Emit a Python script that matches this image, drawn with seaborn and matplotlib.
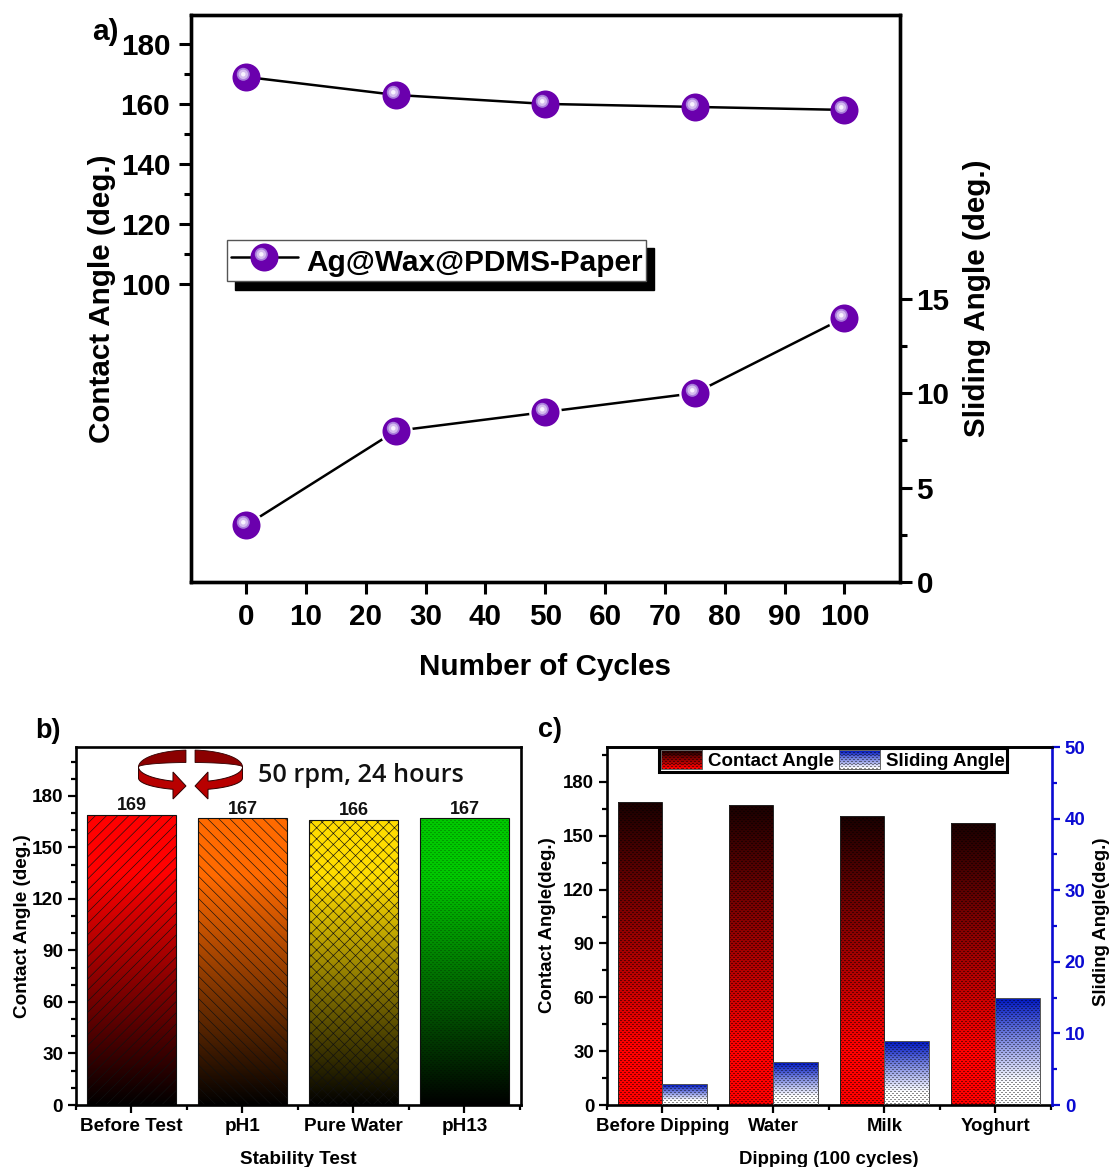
import numpy as np
import pandas as pd
import matplotlib
matplotlib.use("Agg")
import matplotlib.pyplot as plt
import seaborn as sns
from matplotlib.colors import to_rgb
from matplotlib.image import BboxImage
from matplotlib.legend_handler import HandlerBase, HandlerTuple
from matplotlib.lines import Line2D
from matplotlib.markers import MarkerStyle
from matplotlib.patches import Polygon, Rectangle
from matplotlib.ticker import FixedLocator, MultipleLocator
from matplotlib.transforms import Affine2D, Bbox, TransformedBbox

# ---------- data ----------
cycles = [0, 25, 50, 75, 100]
cycle_contact = [169, 163, 160, 159, 158]
cycle_sliding = [3, 8, 9, 10, 14]

stability_tests = ["Before Test", "pH1", "Pure Water", "pH13"]
stability_contact = [169, 167, 166, 167]
stability_colors = ["#ff0000", "#ff6a00", "#ffdc00", "#00c800"]
stability_hatches = ["///", "\\\\\\", "xxx", None]

dipping_media = ["Before Dipping", "Water", "Milk", "Yoghurt"]
dipping_contact = [169, 167, 161, 157]
dipping_sliding = [3, 6, 9, 15]

# ---------- style ----------
sns.set_theme(style="ticks")
FONT = ["Liberation Sans", "DejaVu Sans"]
plt.rcParams.update({
    "font.family": FONT, "font.weight": "bold", "axes.labelweight": "bold",
    "text.color": "black", "axes.labelcolor": "black", "axes.edgecolor": "black",
    "xtick.color": "black", "ytick.color": "black", "image.composite_image": False,
    "hatch.linewidth": 0.45, "figure.dpi": 100, "savefig.dpi": 100,
})
W, H = 1110, 1167
fig = plt.figure(figsize=(W / 100, H / 100), facecolor="white")
px = Affine2D().scale(1 / W, -1 / H).translate(0, 1) + fig.transFigure


def axes_px(l, t, r, b):
    return fig.add_axes([l / W, 1 - b / H, (r - l) / W, (b - t) / H])


def style_axis(ax, spine_lw, major, minor, tick_lw, size):
    for s in ax.spines.values():
        s.set_linewidth(spine_lw)
    ax.tick_params(which="major", length=major, width=tick_lw, labelsize=size, pad=3.7, colors="black")
    ax.tick_params(which="minor", length=minor, width=tick_lw, colors="black")


# ---------- panel a ----------
ax_a = axes_px(191, 14.5, 899.5, 582)
ax_a2 = ax_a.twinx()
# diameter in px, colour, highlight offset in px
sphere = [(28, "#6a00ad", 0, 0), (13, "#a97ddb", -3.2, 3.2), (9.5, "#d4bcee", -3.2, 3.2), (4.5, "#f8f2fe", -3.2, 3.2)]


def sphere_layers(ax, x, y):
    arts = []
    for d, c, ox, oy in sphere:
        ms = MarkerStyle("o", transform=Affine2D().translate(ox / d, oy / d))
        arts += ax.plot(x, y, ls="none", marker=ms, ms=d * .72, mfc=c, mec="none", zorder=4)
    return arts


df_a = pd.DataFrame({"cycles": cycles, "contact": cycle_contact, "sliding": cycle_sliding})
sns.lineplot(data=df_a, x="cycles", y="contact", ax=ax_a, color="black", lw=1.8, errorbar=None)
sns.lineplot(data=df_a, x="cycles", y="sliding", ax=ax_a2, color="black", lw=1.8, errorbar=None)
ax_a2.plot(cycles, cycle_sliding, ls="none", marker="o", ms=23.5, mfc="white", mec="none", zorder=3)
layers = sphere_layers(ax_a, cycles, cycle_contact)
sphere_layers(ax_a2, cycles, cycle_sliding)

ax_a.set_xlim(-9.2, 109.2)
ax_a.set_ylim(0.67, 189.8)
ax_a2.set_ylim(0, 30.05)
ax_a.set_xticks(range(0, 101, 10))
ax_a.set_yticks(range(100, 181, 20))
ax_a.yaxis.set_minor_locator(FixedLocator(range(110, 180, 20)))
ax_a2.set_yticks([0, 5, 10, 15])
ax_a2.yaxis.set_minor_locator(FixedLocator([2.5, 7.5, 12.5]))
style_axis(ax_a, 2.4, 8.5, 5, 2.2, 21.3)
style_axis(ax_a2, 2.4, 8.5, 5, 2.2, 21.3)
ax_a.tick_params(axis="x", pad=6.5)
ax_a.tick_params(axis="y", pad=6.5)
ax_a.set_xlabel("Number of Cycles", fontsize=21.3)
ax_a.xaxis.set_label_coords(545, 667, transform=px)
ax_a.xaxis.label.set_va("center")
ax_a.set_ylabel("Contact Angle (deg.)", fontsize=21.3, va="center")
ax_a.yaxis.set_label_coords(102, 299, transform=px)
ax_a2.set_ylabel("Sliding Angle (deg.)", fontsize=21.3, va="center")
ax_a2.yaxis.set_label_coords(977, 298, transform=px)

handle_line = Line2D([], [], color="black", lw=1.8)
ax_a2.legend(
    [(handle_line, *layers)], ["Ag@Wax@PDMS-Paper"],
    handler_map={tuple: HandlerTuple(ndivide=1, pad=0)},
    loc="upper left", bbox_to_anchor=(227, 240), bbox_transform=px, borderaxespad=0,
    fancybox=False, edgecolor="#555555", framealpha=1, fontsize=21.4, handlelength=2.27,
    handleheight=1.4, borderpad=.12, handletextpad=.27, numpoints=1,
    shadow={"ox": 5.8, "oy": -5.8, "color": "black", "alpha": 1},
).get_frame().set_linewidth(1)


# ---------- gradients ----------
def ramp(stops, n=256):
    """stops: list of (fraction from the top, colour)."""
    t = np.linspace(0, 1, n)
    pos = [s[0] for s in stops]
    cols = np.array([to_rgb(s[1]) for s in stops])
    return np.stack([np.interp(t, pos, cols[:, i]) for i in range(3)], axis=1)[:, None, :]


def dotted(image, w, h, strength):
    """Resample a vertical ramp to w x h pixels and stamp a staggered dot pattern on it."""
    rows = np.linspace(0, image.shape[0] - 1, h).astype(int)
    rgb = np.repeat(image[rows], w, axis=1)
    yy, xx = np.mgrid[0:h, 0:w]
    a = (xx % 4 < 2) & (yy % 4 == 0)
    b = ((xx + 2) % 4 < 2) & (yy % 4 == 2)
    return rgb * (1 - strength * (a | b))[..., None]


def paint_bar(ax, patch, image, hatch, edge, lw, strength=0):
    """Fill a bar with a gradient placed pixel for pixel under its axes; optional dots, optional hatch."""
    box = patch.get_window_extent()
    x0, x1 = round(box.x0), round(box.x1)
    y0, y1 = round(box.y0), round(box.y1)
    fig.figimage(dotted(image, x1 - x0, y1 - y0, strength), xo=x0, yo=y0, origin="upper", zorder=-1)
    patch.set(facecolor="none", edgecolor=edge, linewidth=lw, hatch=hatch, zorder=2)


# ---------- panel b ----------
ax_b = axes_px(76, 747, 521, 1105)
ax_b.patch.set_visible(False)
df_b = pd.DataFrame({"test": stability_tests, "contact": stability_contact})
sns.barplot(data=df_b, x="test", y="contact", ax=ax_b, width=.8, color="white", errorbar=None)
ax_b.set_xlim(-.5, 3.51)
ax_b.set_ylim(0, 208.5)
for patch, c, hatch in zip(ax_b.patches, stability_colors, stability_hatches):
    paint_bar(ax_b, patch, ramp([(0, c), (.2, c), (1, "#000000")]), hatch, "#111111", .8,
              strength=.22 if hatch is None else 0)
ax_b.bar_label(ax_b.containers[0], fmt="%d", fontsize=13, padding=0.5, color="#111111")
ax_b.yaxis.set_major_locator(MultipleLocator(30))
ax_b.yaxis.set_minor_locator(MultipleLocator(10))
ax_b.xaxis.set_minor_locator(MultipleLocator(1, offset=.5))
style_axis(ax_b, 1.9, 5.5, 3.5, 1.6, 13.6)
ax_b.set_xlabel("Stability Test", fontsize=13.6, va="center")
ax_b.xaxis.set_label_coords(298, 1159, transform=px)
ax_b.set_ylabel("Contact Angle (deg.)", fontsize=13.6, va="center")
ax_b.yaxis.set_label_coords(23, 926, transform=px)

# ---------- panel c ----------
ax_c = axes_px(607, 747, 1052, 1105)
ax_c.patch.set_visible(False)
ax_c2 = ax_c.twinx()
series = ["Contact Angle", "Sliding Angle"]
df_c1 = pd.DataFrame({"medium": dipping_media, "series": series[0], "value": dipping_contact})
df_c2 = pd.DataFrame({"medium": dipping_media, "series": series[1], "value": dipping_sliding})
for ax, df in ((ax_c, df_c1), (ax_c2, df_c2)):
    sns.barplot(data=df, x="medium", y="value", hue="series", hue_order=series, order=dipping_media,
                ax=ax, width=.8, gap=0, dodge=True, errorbar=None, legend=False, palette=["white", "white"])
ax_c.set_xlim(-.5, 3.51)
ax_c.set_ylim(0, 199.5)
ax_c2.set_ylim(0, 50)
red_img = ramp([(0, "#1a0000"), (.8, "#ff0000"), (1, "#ff0000")])
blue_img = ramp([(0, "#0018c0"), (.8, "#ffffff"), (1, "#ffffff")])
for ax, ramp_img, edge, strength in ((ax_c, red_img, "#222222", .5), (ax_c2, blue_img, "#555555", .45)):
    for patch in ax.patches:
        if patch.get_height() > 0:
            paint_bar(ax, patch, ramp_img, None, edge, .7, strength=strength)
ax_c.yaxis.set_major_locator(MultipleLocator(30))
ax_c.yaxis.set_minor_locator(MultipleLocator(15))
ax_c.xaxis.set_minor_locator(MultipleLocator(1, offset=.5))
ax_c2.yaxis.set_major_locator(MultipleLocator(10))
ax_c2.yaxis.set_minor_locator(MultipleLocator(5))
style_axis(ax_c, 1.9, 5.5, 3.5, 1.6, 13.4)
style_axis(ax_c2, 1.9, 5.5, 3.5, 1.6, 13.4)
ax_c2.tick_params(axis="y", which="both", colors="#0a0ad2")
ax_c2.spines["right"].set_color("#0a0ad2")
ax_c.spines["right"].set_visible(False)
ax_c2.spines["bottom"].set_visible(False)
ax_c2.spines["left"].set_visible(False)
ax_c.set_xlabel("Dipping (100 cycles)", fontsize=13.4, va="center")
ax_c.xaxis.set_label_coords(829, 1160, transform=px)
ax_c.set_ylabel("Contact Angle(deg.)", fontsize=13.4, va="center")
ax_c.yaxis.set_label_coords(548, 925, transform=px)
ax_c2.set_ylabel("Sliding Angle(deg.)", fontsize=13.4, va="center", color="black")
ax_c2.yaxis.set_label_coords(1101, 922, transform=px)


class GradientHandler(HandlerBase):
    def __init__(self, image):
        super().__init__()
        self.image = image

    def create_artists(self, legend, orig, xd, yd, width, height, fontsize, trans):
        box = TransformedBbox(Bbox([[-xd, -yd], [width - xd, height - yd]]), trans)
        img = BboxImage(box, interpolation="nearest")
        img.set_data(self.image)
        rect = Rectangle((-xd, -yd), width, height, facecolor="none", edgecolor="#666666",
                         lw=.7, transform=trans)
        return [img, rect]


h1, h2 = Rectangle((0, 0), 1, 1), Rectangle((0, 0), 1, 1)
leg = ax_c2.legend(
    [h1, h2], series, ncols=2,
    handler_map={h1: GradientHandler(dotted(ramp([(0, "#1a0000"), (1, "#ff0000")]), 41, 21, .5)),
                 h2: GradientHandler(dotted(ramp([(0, "#0018c0"), (1, "#ffffff")]), 41, 21, .45))},
    loc="upper left", bbox_to_anchor=(659, 748), bbox_transform=px, borderaxespad=0,
    fancybox=False, framealpha=1, edgecolor="black", fontsize=13.5, handlelength=2.19, handleheight=1.15,
    borderpad=.12, handletextpad=.32, columnspacing=.27,
)
leg.get_frame().set_linewidth(2.2)

# ---------- overlay: panel letters, rotation sketch ----------
over = fig.add_axes([0, 0, 1, 1], zorder=10)
over.set_xlim(0, W)
over.set_ylim(H, 0)
over.axis("off")
over.text(92, 32, "a)", fontsize=21.5, ha="left", va="center")
over.text(35, 731, "b)", fontsize=19.5, ha="left", va="center")
over.text(538, 730, "c)", fontsize=19.5, ha="left", va="center")
over.text(258, 775, "50 rpm, 24 hours", fontsize=18.2, ha="left", va="center",
          family=["Open Sans", "DejaVu Sans"], weight="semibold", color="#111111")

cx, cy, rx = 190.5, 767, 52
for sign in (-1, 1):
    a = np.radians(np.linspace(5, 90, 30))
    xs = cx + sign * rx * np.sin(a)
    back = np.r_[np.c_[xs, cy - 17 * np.cos(a)], np.c_[xs[::-1], (cy - 4.5 * np.cos(a))[::-1]]]
    over.add_patch(Polygon(back, fc="#8b0000", ec="#300000", lw=.6))
    b = np.radians(np.linspace(90, 19.7, 30))
    xf = cx + sign * rx * np.sin(b)
    upper = np.c_[xf, cy + 15 * np.cos(b)]
    lower = np.c_[xf, cy + 11 + 12 * np.cos(b)]
    head = np.array([[cx + sign * 17.5, 772], [cx + sign * 4.5, 786], [cx + sign * 17.5, 799]])
    over.add_patch(Polygon(np.r_[upper, head, lower[::-1]], fc="#b80000", ec="#300000", lw=.7))

fig.savefig("out.png", dpi=100)
